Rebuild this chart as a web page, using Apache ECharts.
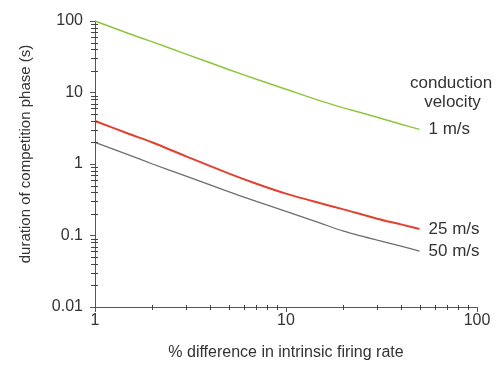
<!DOCTYPE html>
<html>
<head>
<meta charset="utf-8">
<script src="https://cdn.jsdelivr.net/npm/echarts@6/dist/echarts.min.js"></script>
<style>
  html, body { margin: 0; padding: 0; background: #fff; }
  #main { width: 498px; height: 370px; }
</style>
</head>
<body>
<div id="main"></div>
<script>
// % difference in intrinsic firing rate
const rateDiff = [1, 1.5, 2, 3, 5, 7, 10, 15, 20, 30, 40, 50]
// duration of competition phase (s), one list per conduction velocity
const v1 = [100, 67, 51, 34.4, 21, 15.3, 11.1, 7.7, 6.1, 4.5, 3.6, 3.05]
const v25 = [4, 2.65, 2.0, 1.28, 0.74, 0.53, 0.385, 0.285, 0.232, 0.172, 0.143, 0.123]
const v50 = [2, 1.34, 1.0, 0.675, 0.41, 0.3, 0.217, 0.15, 0.115, 0.086, 0.071, 0.0605]
const xTicks = [1, 10, 100]
const yTicks = [0.01, 0.1, 1, 10, 100]
// log minor ticks
const xMinor = [2, 3, 4, 5, 6, 7, 8, 9, 20, 30, 40, 50, 60, 70, 80, 90]
const yMinor = [
  0.02, 0.03, 0.04, 0.05, 0.06, 0.07, 0.08, 0.09,
  0.2, 0.3, 0.4, 0.5, 0.6, 0.7, 0.8, 0.9,
  2, 3, 4, 5, 6, 7, 8, 9,
  20, 30, 40, 50, 60, 70, 80, 90
]

const font = 'Liberation Sans, Arial, sans-serif'
const textColor = '#333'
const axisColor = '#555'

function pairs(ys) {
  return rateDiff.map((x, i) => [x, ys[i]])
}

function line(name, data, color, width) {
  return {
    name: name,
    type: 'line',
    data: pairs(data),
    smooth: 0.25,
    showSymbol: false,
    lineStyle: { color: color, width: width },
    endLabel: {
      show: true,
      formatter: name,
      distance: 9,
      color: textColor,
      fontSize: 17,
      fontFamily: font
    }
  }
}

const myChart = echarts.init(document.getElementById('main'))
myChart.setOption({
  animation: false,
  grid: { left: 95, right: 21, top: 21, bottom: 63 },
  xAxis: {
    type: 'log',
    logBase: 10,
    min: 1,
    max: 100,
    name: '% difference in intrinsic firing rate',
    nameLocation: 'middle',
    nameGap: 38,
    nameTextStyle: { color: textColor, fontSize: 16, fontFamily: font },
    axisLine: { lineStyle: { color: axisColor, width: 1 } },
    axisTick: { length: 5, lineStyle: { color: axisColor } },
    axisLabel: {
      margin: 6,
      color: textColor,
      fontSize: 16,
      fontFamily: font,
      formatter: v => (xTicks.includes(v) ? String(v) : '')
    },
    splitLine: { show: false }
  },
  yAxis: {
    type: 'log',
    logBase: 10,
    min: 0.01,
    max: 100,
    name: 'duration of competition phase (s)',
    nameLocation: 'middle',
    nameGap: 62,
    nameTextStyle: { color: textColor, fontSize: 15, fontFamily: font, padding: [0, 0, 0, 20] },
    axisLine: { lineStyle: { color: axisColor, width: 1 } },
    axisTick: { length: 5, lineStyle: { color: axisColor } },
    axisLabel: {
      margin: 12,
      color: textColor,
      fontSize: 16,
      fontFamily: font,
      formatter: v => {
        const hit = yTicks.find(t => Math.abs(t - v) / t < 1e-6)
        return hit === undefined ? '' : String(hit)
      }
    },
    splitLine: { show: false }
  },
  graphic: [
    {
      id: 'legendTitle',
      type: 'text',
      left: 410,
      top: 74,
      style: {
        text: 'conduction\n   velocity',
        fill: textColor,
        font: '17px ' + font,
        lineHeight: 19
      }
    }
  ],
  series: [
    line('1 m/s', v1, '#8cc63e', 1.5),
    line('25 m/s', v25, '#e2412f', 2),
    line('50 m/s', v50, '#6e6e6e', 1.3)
  ]
})

// log minor ticks, placed through the axes' own scales
const xAxisModel = myChart.getModel().getComponent('xAxis', 0)
const yAxisModel = myChart.getModel().getComponent('yAxis', 0)
const tickEls = []
xMinor.forEach((v, i) => {
  const px = myChart.convertToPixel({ xAxisIndex: 0 }, v)
  const py = myChart.convertToPixel({ yAxisIndex: 0 }, 0.01)
  const x = Math.round(px) + 0.5
  tickEls.push({
    id: 'xm' + i, type: 'line', silent: true, z: 10,
    shape: { x1: x, y1: py - 2, x2: x, y2: py + 3 },
    style: { stroke: '#444', lineWidth: 1 }
  })
})
yMinor.forEach((v, i) => {
  const px = myChart.convertToPixel({ xAxisIndex: 0 }, 1)
  const py = myChart.convertToPixel({ yAxisIndex: 0 }, v)
  const y = Math.round(py) + 0.5
  tickEls.push({
    id: 'ym' + i, type: 'line', silent: true, z: 10,
    shape: { x1: px - 4, y1: y, x2: px + 3, y2: y },
    style: { stroke: '#444', lineWidth: 1 }
  })
})
myChart.setOption({ graphic: tickEls })
</script>
</body>
</html>
